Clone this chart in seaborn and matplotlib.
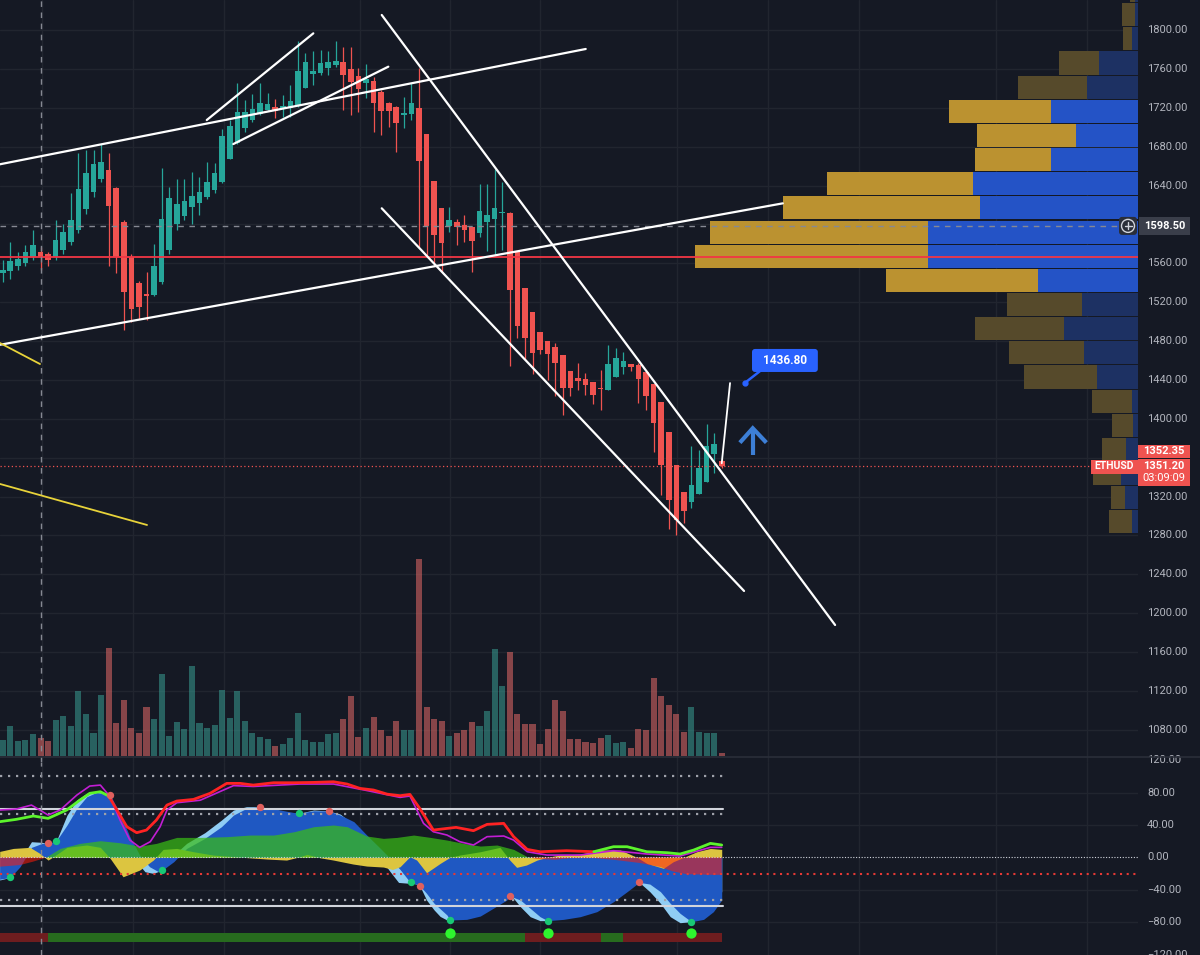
"""
ETHUSD chart: candles, volume, volume profile, trend lines and a wave-trend oscillator
"""

import numpy as np
import matplotlib
matplotlib.use("Agg")
import matplotlib.pyplot as plt
import matplotlib.transforms as mtransforms
from matplotlib.lines import Line2D
from matplotlib.patches import Rectangle, FancyBboxPatch, Circle
import seaborn as sns

# ---------------- candles ----------------
opens = [1550, 1552, 1557, 1560, 1567, 1572, 1570, 1567, 1574, 1582,
         1594, 1616, 1633, 1647, 1656, 1637, 1603, 1567, 1540, 1528,
         1527, 1541, 1574, 1600, 1609, 1618, 1622, 1628, 1635, 1644,
         1667, 1684, 1699, 1707, 1714, 1718, 1721, 1719, 1720, 1723,
         1740, 1755, 1756, 1761, 1764, 1767, 1760, 1753, 1745, 1748,
         1736, 1725, 1721, 1713, 1714, 1720, 1693, 1645, 1617, 1598,
         1602, 1599, 1597, 1591, 1602, 1606, 1612, 1612, 1572, 1535,
         1510, 1489, 1480, 1474, 1466, 1449, 1442, 1441, 1438, 1432,
         1430, 1443, 1453, 1456, 1455, 1448, 1436, 1417, 1386, 1352,
         1325, 1314, 1323, 1335, 1364, 1357]
highs = [1563, 1582, 1572, 1579, 1594, 1577, 1572, 1605, 1600, 1632,
         1674, 1677, 1677, 1683, 1674, 1639, 1605, 1570, 1542, 1551,
         1580, 1658, 1638, 1647, 1647, 1654, 1649, 1664, 1663, 1698,
         1707, 1746, 1728, 1734, 1745, 1735, 1729, 1733, 1743, 1789,
         1776, 1778, 1779, 1778, 1789, 1783, 1783, 1761, 1765, 1752,
         1738, 1726, 1722, 1731, 1745, 1761, 1693, 1645, 1617, 1618,
         1606, 1610, 1597, 1642, 1642, 1657, 1644, 1613, 1572, 1535,
         1510, 1489, 1480, 1478, 1466, 1449, 1457, 1447, 1438, 1450,
         1476, 1473, 1469, 1456, 1457, 1448, 1436, 1417, 1386, 1352,
         1325, 1372, 1368, 1395, 1385, 1359]
lows = [1541, 1544, 1553, 1557, 1563, 1553, 1557, 1563, 1570, 1579,
        1591, 1611, 1628, 1644, 1557, 1550, 1491, 1500, 1503, 1502,
        1526, 1539, 1570, 1594, 1605, 1600, 1610, 1626, 1632, 1643,
        1667, 1683, 1695, 1705, 1713, 1717, 1710, 1711, 1711, 1721,
        1740, 1743, 1754, 1754, 1762, 1718, 1713, 1716, 1730, 1695,
        1692, 1700, 1675, 1699, 1707, 1577, 1567, 1560, 1551, 1592,
        1579, 1582, 1551, 1587, 1573, 1570, 1574, 1454, 1483, 1461,
        1446, 1467, 1440, 1423, 1404, 1423, 1430, 1425, 1415, 1409,
        1430, 1443, 1446, 1449, 1416, 1409, 1366, 1322, 1287, 1280,
        1293, 1308, 1323, 1335, 1344, 1349]
closes = [1553, 1562, 1564, 1572, 1579, 1567, 1563, 1584, 1592, 1605,
          1636, 1653, 1662, 1664, 1619, 1567, 1531, 1513, 1515, 1526,
          1557, 1606, 1627, 1621, 1624, 1629, 1633, 1644, 1653, 1691,
          1701, 1716, 1716, 1719, 1725, 1724, 1717, 1722, 1727, 1758,
          1767, 1758, 1766, 1767, 1768, 1754, 1747, 1739, 1750, 1725,
          1717, 1717, 1704, 1714, 1725, 1665, 1598, 1589, 1581, 1605,
          1597, 1594, 1583, 1614, 1610, 1617, 1613, 1533, 1496, 1483,
          1468, 1471, 1467, 1457, 1432, 1432, 1439, 1435, 1425, 1431,
          1456, 1463, 1459, 1453, 1441, 1424, 1396, 1353, 1317, 1296,
          1305, 1332, 1349, 1372, 1374, 1351.2]
volumes = [4.8, 9.0, 4.6, 4.8, 6.6, 5.3, 4.5, 10.8, 12.1, 9.0,
           19.6, 12.5, 7.0, 18.3, 32.5, 10.0, 16.8, 8.5, 7.0, 14.8,
           11.1, 24.6, 6.1, 10.1, 8.0, 27.0, 10.0, 8.3, 9.3, 19.8,
           11.3, 19.6, 10.5, 7.0, 5.6, 5.1, 3.0, 3.6, 5.3, 13.0,
           4.8, 4.3, 4.3, 6.6, 7.0, 11.1, 18.0, 5.6, 8.5, 11.8,
           7.8, 6.0, 10.5, 7.8, 7.8, 59.0, 14.8, 11.1, 10.6, 6.1,
           6.8, 7.8, 10.3, 9.0, 13.5, 32.2, 21.0, 31.1, 12.5, 9.6,
           9.6, 3.6, 8.0, 16.8, 13.5, 5.1, 5.1, 4.1, 3.8, 5.3,
           6.3, 3.8, 4.1, 2.5, 8.0, 7.8, 23.3, 18.1, 15.3, 12.5,
           7.3, 14.6, 7.3, 7.0, 6.8, 1.0]

price_ticks = list(range(1800, 1079, -40))
osc_ticks = [120, 80, 40, 0, -40, -80, -120]
grid_x = [5.2, 17.2, 29.2, 47.2, 59.1, 71.0, 89.1, 101.1, 113.2, 131.3, 143.2]

# volume profile rows (bottom to top)
vp_low = 1281.5
vp_step = 24.85
vp_up = [5.7, 13, 17.3, 12, 4.7, 5.7, 40.7, 53.7, 74, 56.3, 99.7, 209.7,
         209.7, 158, 165.3, 87.3, 62, 87.3, 51.3, 39, 6.3, 3, 3]
vp_down = [23.3, 14.3, 27.4, 23.7, 21, 40.6, 73.3, 75, 89, 74.4, 152.3, 233.3,
           218.3, 197.3, 146, 75.4, 99.3, 101.4, 68.4, 39.7, 8.7, 12.7, 5]
vp_area_rows = (10, 17)

poc_price = 1566.8
last_price = 1351.2
ask_price = 1352.35
cross_price = 1598.5
cross_bar = 5
countdown = "03:09:09"
symbol = "ETHUSD"

# drawings: (bar, price) anchors
trend_white = [((-0.36, 1661.9), (77.03, 1780.5)),
               ((-0.36, 1476.2), (103.07, 1621.7)),
               ((26.96, 1707.4), (41.04, 1796.6)),
               ((30.47, 1682.7), (50.95, 1762.3)),
               ((50.08, 1815.5), (109.98, 1187.9)),
               ((50.08, 1616.6), (97.95, 1222.9))]
trend_yellow = [((-0.36, 1478.0), (4.93, 1456.4)),
                ((-0.36, 1333.0), (19.07, 1290.8))]
target_line = ((95.0, 1354.3), (96.1, 1436.8))

# ---------------- oscillator ----------------
wt1_x = [-0.4, 1.0, 2.3, 3.8, 5.2, 6.0, 6.6, 7.1, 8.5, 9.8, 11.1, 12.4, 13.5, 14.2,
         14.8, 16.2, 17.5, 18.8, 19.9, 21.1, 22.6, 24.3, 26.7, 28.9, 30.5, 32.2, 34.0,
         36.2, 37.9, 39.1, 41.1, 43.1, 44.6, 46.4, 48.1, 49.9, 51.2, 52.3, 53.6, 54.0,
         55.1, 56.0, 57.0, 57.8, 58.7, 59.1, 61.3, 63.1, 64.8, 66.0, 67.0, 67.5, 68.4,
         69.7, 71.0, 72.0, 74.1, 76.3, 78.5, 80.7, 82.5, 84.1, 85.5, 86.9, 88.2, 89.5,
         91.0, 92.6, 93.9, 95.0]
wt1_y = [-28, -24.8, -3.4, 19.3, 18.5, 16.5, 15.5, 20.5, 52.2, 70.7, 79, 81, 78.5, 76.9,
         50.1, 19.3, -3.4, -17.8, -19.8, -15.7, 2.8, 17.2, 30.4, 46, 58.4, 62.5, 62.5,
         58.5, 55, 54.3, 58.4, 57.1, 53.4, 39.9, 19.3, -1.3, -17.8, -31, -32, -30.9,
         -35, -52.7, -65, -73, -77.4, -77.4, -67, -56.8, -47.8, -42.4, -47.8, -50.7, -61,
         -73.3, -78.2, -78.2, -73.3, -67.1, -56.8, -42.4, -33, -30.9, -42.4, -56.8, -73.3, -80.7,
         -79.5, -69.2, -52.7, -42.4]
wt2_x = [-0.4, 1.0, 2.3, 3.8, 5.2, 6.0, 7.1, 8.5, 9.8, 11.1, 12.4, 14.2, 15.5, 16.8,
         18.1, 19.4, 20.6, 21.1, 22.6, 24.3, 26.7, 28.9, 30.5, 32.2, 34.0, 36.2, 37.9,
         39.1, 41.1, 43.1, 44.6, 46.4, 48.1, 49.9, 51.2, 52.5, 53.6, 54.0, 55.1, 56.0,
         57.0, 58.7, 59.1, 61.3, 63.1, 64.8, 66.6, 67.0, 68.4, 69.7, 71.0, 72.0, 74.1,
         76.3, 78.5, 80.7, 82.5, 84.1, 85.5, 86.9, 88.2, 89.5, 91.0, 92.6, 93.9, 95.0]
wt2_y = [-27, -24.8, -11.6, 12.3, 17.2, 17.2, 20.5, 39.9, 60.4, 74.8, 80.2, 76.9, 54.3, 25.5,
         2.8, -11.6, -17.8, -15.7, -5.4, 11.0, 23.4, 37.8, 52.2, 60.4, 62.5, 59.2, 56.3,
         54.3, 57.5, 57.1, 52.2, 44, 27.5, 11.0, -1.3, -15, -28, -30.9, -35, -44.5,
         -56.8, -71.2, -77.4, -76.6, -72.5, -63, -52.7, -47.8, -52.7, -63, -73.3, -78.2, -76.6,
         -73.3, -67.1, -54.8, -42.4, -30.9, -33, -42.4, -56.8, -69.2, -79.5, -76.6, -67.1, -52.7]
mf_x = [-0.4, 2.3, 4.0, 5.4, 5.8, 7.6, 10.2, 12.9, 15.5, 18.1, 20.3, 23.0, 26.1, 29.6,
        32.7, 35.8, 38.5, 41.1, 43.7, 45.5, 48.1, 50.3, 52.1, 54.3, 56.5, 58.7, 60.9,
        63.1, 65.3, 67.5, 69.3, 70.5, 73.0, 75.0, 78.1, 80.7, 84.2, 86.9, 88.6, 90.4,
        93.9, 95.0]
mf_y = [-11.6, -9.5, -5.4, -1.3, 0.8, 11, 17.2, 20.5, 18, 13.9, 17.2, 24.6, 24.6, 25.5,
        27.5, 27.5, 31.6, 37.8, 39.9, 37.8, 26.3, 23.4, 24.6, 27.5, 24.6, 21.3, 17.2,
        13.9, 15.2, 9.8, 0.8, -2, -3, -1, -1, -3, -7, -12, -17.5, -20.8,
        -21.6, -21.6]
vw_x = [-0.4, 1.4, 3.6, 4.9, 6.0, 6.7, 8.5, 11.1, 12.9, 14.2, 15.9, 18.1, 19.9, 21.2,
        23.0, 25.2, 27.8, 30.5, 34.9, 37.5, 39.3, 40.2, 41.9, 43.7, 46.3, 48.1, 50.3,
        51.5, 52.5, 53.8, 54.7, 56.0, 57.8, 59.1, 60.4, 63.1, 65.7, 67.0, 67.9, 69.2,
        70.6, 71.9, 73.6, 76.3, 79.0, 81.6, 83.8, 85.1, 87.3, 88.6, 90.0, 91.7, 93.5, 95.0]
vw_y = [7.3, 11.0, 12.3, 4.9, -3.4, 0.8, 12.3, 15.2, 12.3, -1.3, -24, -15.7, -3.4, 9.8,
        11.0, 6.9, 2.8, 0.8, -2.1, -3.4, 0.8, 3.6, -0.5, -3.4, -8.3, -10.8, -12,
        -15, -11.6, 0.8, -3.4, -19, -7.5, 0, 2.8, 6.9, 12.3, -3.4, -12.4, -9.5,
        -3.4, 0, 2.8, 4, 9, 9, 0, -7.5, -13.6, -5.4, 0, 6.9, 11.0, 9.8]
rsi_x = [-0.4, 1.8, 4.05, 6.0, 8.45, 10.2, 11.5, 12.9, 14.0, 15.1, 16.4, 17.7, 19.0, 20.3,
         21.7, 23.0, 25.2, 27.4, 29.6, 31.4, 33.1, 35.8, 38.4, 41.1, 43.7, 45.5, 47.2,
         49.0, 50.8, 52.5, 53.8, 55.1, 56.9, 58.7, 59.9, 62.2, 64.0, 66.2, 67.5, 69.3,
         71.0, 74.5, 78.1, 80.7, 82.5, 85.1, 87.8, 89.5, 91.3, 93.5, 95.0]
rsi_y = [44, 46.9, 51, 48.1, 58.4, 70.7, 79, 81, 75.7, 58.4, 37.8, 30.4, 33.7, 46,
         64.5, 69.5, 71.5, 79, 91.3, 91.3, 89.2, 92.1, 92.1, 92.5, 93.3, 90.5, 85.1,
         83.1, 78, 76.1, 77.7, 60.4, 33.7, 35.7, 37, 32.9, 40.7, 41.9, 25.5, 9.8,
         6.9, 8.2, 6.9, 13.1, 13.1, 6.9, 5.7, 4.1, 9.0, 17.2, 15.2]
rsi_breaks = [14.0, 78.1]
mag_x = [-0.4, 1.8, 3.8, 6.0, 7.6, 9.8, 11.5, 12.9, 14.2, 15.5, 16.8, 18.1, 19.5, 20.8,
         21.7, 23.0, 26.1, 30.5, 33.1, 39.3, 43.7, 48.1, 52.5, 53.8, 55.6, 56.9, 58.7,
         60.4, 62.2, 64.0, 66.2, 67.5, 69.3, 71.9, 76.3, 80.7, 85.1, 89.5, 93.5, 95.0]
mag_y = [58.4, 59.6, 64.5, 52.2, 58.4, 76.9, 88, 89.2, 74.8, 46, 21.3, 12.3, 19.3, 37.8,
         58.4, 67.4, 70.5, 88.5, 87.5, 90.5, 90.5, 82.5, 74, 75.7, 41.9, 31.6, 27.5,
         19.3, 15.2, 25.5, 26.3, 21.3, 6.9, 2.8, 2.8, 8.2, 4.1, 1.6, 12.3, 12.3]
red_dot_x = [6.0, 14.2, 34.0, 43.1, 55.1, 67.0, 84.1]
red_dot_y = [17.2, 76.9, 62.5, 57.1, -35, -47.8, -30.9]
green_dot_x = [1.0, 7.1, 21.1, 39.1, 54.0, 59.1, 72.0, 91.0]
green_dot_y = [-24.8, 20.5, -15.7, 54.3, -30.9, -77.4, -78.2, -79.5]
signal_x = [59.1, 72.0, 91.0]
signal_y = [-93, -93, -93]
strip_edges = [-0.5, 6, 69, 79, 82, 95]
strip_bull = [False, True, False, True, False]
levels_dotted = [100, 53, -53]
levels_solid = [60, -60]
level_red = -20

# ---------------- style ----------------
BG = "#151924"
GRID = "#21252f"
TEXT = "#b2b5be"
UP = "#26a69a"
DOWN = "#ef5350"

sns.set_theme(style="dark", rc={"axes.facecolor": BG, "figure.facecolor": BG,
                                "savefig.facecolor": BG})
plt.rcParams["font.family"] = ["Roboto", "DejaVu Sans"]

W, H = 1200, 955
PLOT_W, SPLIT = 1138, 762
X0, X1 = -0.357, 150.0
P0, P1 = 1046.95, 1830.9
V0, V1 = -120.6, 117.7

fig = plt.figure(figsize=(W / 100, H / 100), dpi=100)
main_rect = [0, (H - SPLIT) / H, PLOT_W / W, SPLIT / H]
osc_rect = [0, 0, PLOT_W / W, (H - SPLIT) / H]

ax_grid = fig.add_axes(main_rect)
ax_main = fig.add_axes(main_rect, sharex=ax_grid, sharey=ax_grid)
ax_vol = ax_main.twinx()
ax_vp = ax_main.twiny()
ax_osc = fig.add_axes(osc_rect, sharex=ax_grid)

for z, a in enumerate([ax_grid, ax_vol, ax_vp, ax_main]):
    a.set_zorder(z)
for a in [ax_grid, ax_main, ax_vol, ax_vp, ax_osc]:
    a.set_axis_off()

idx = np.arange(len(opens))
o, h, l, c = (np.array(v, dtype=float) for v in (opens, highs, lows, closes))

# grid
for p in price_ticks:
    ax_grid.axhline(p, color=GRID, lw=1)
for gx in grid_x:
    ax_grid.axvline(gx, color=GRID, lw=1)
    ax_osc.axvline(gx, color=GRID, lw=1, zorder=0.5)
for v in (80, 40, -40, -80):
    ax_osc.axhline(v, color=GRID, lw=1, zorder=0.5)

# volume
direction = np.where(c >= o, "up", "down")
sns.barplot(x=idx, y=volumes, hue=direction, palette={"up": UP, "down": DOWN},
            native_scale=True, dodge=False, width=0.8, errorbar=None,
            alpha=0.58, linewidth=0, legend=False, ax=ax_vol)
ax_vol.set_ylim(-1.8, 226.8)
ax_vol.set_axis_off()

# volume profile
rows = np.arange(len(vp_up))
centers = vp_low + vp_step * (rows + 0.5)
in_area = (rows >= vp_area_rows[0]) & (rows <= vp_area_rows[1])
ax_vp.barh(centers, vp_up, height=vp_step * 0.955, left=0,
           color=["#2453c6" if a else "#1d3163" for a in in_area], linewidth=0)
ax_vp.barh(centers, vp_down, height=vp_step * 0.955, left=vp_up,
           color=["#bb9230" if a else "#564a2b" for a in in_area], linewidth=0)
ax_vp.set_xlim(PLOT_W, 0)

# candles
candle_colors = np.where(c >= o, UP, DOWN)
ax_main.vlines(idx, l, h, colors=candle_colors, lw=0.9, zorder=2)
ax_main.bar(idx, np.maximum(np.abs(c - o), 1.2), bottom=np.minimum(o, c), width=0.74,
            color=candle_colors, linewidth=0, zorder=2.1)

# horizontal lines
ax_main.axhline(poc_price, color="#f23645", lw=1.3, zorder=3)
ax_main.axhline(last_price, color=DOWN, lw=0.9, ls=(0, (1, 2)), zorder=3)
ax_main.plot([X0, (1120 / PLOT_W) * (X1 - X0) + X0], [cross_price, cross_price],
             color="#868993", lw=1, ls=(0, (4, 4)), zorder=3)
ax_main.axvline(cross_bar, color="#868993", lw=1, ls=(0, (4, 4)), zorder=3)

# trend lines
for (xa, ya), (xb, yb) in trend_white:
    ax_main.plot([xa, xb], [ya, yb], color="white", lw=1.6, solid_capstyle="round", zorder=4)
for (xa, ya), (xb, yb) in trend_yellow:
    ax_main.plot([xa, xb], [ya, yb], color="#e8d33a", lw=1.3, zorder=4)
(ta, pa), (tb, pb) = target_line
ax_main.plot([ta, tb], [pa, pb], color="white", lw=1.3, zorder=4)

# price callout
ax_main.plot([98.1, 100.2], [1437.2, 1450.0], color="#2962ff", lw=1.8, zorder=5)
ax_main.plot([98.1], [1437.2], "o", color="#2962ff", ms=3.5, zorder=5)
ax_main.add_patch(FancyBboxPatch((99.0, 1448.2), 8.7, 23.7,
                                 boxstyle="round,pad=0,rounding_size=0.4",
                                 mutation_aspect=7.7, fc="#2962ff", ec="none", zorder=6))
ax_main.text(103.35, 1460.0, f"{pb:.2f}", color="white", fontsize=8.5, weight="bold",
             ha="center", va="center", zorder=7)

# up arrow
ax_main.plot([99.1, 99.1], [1362.8, 1388.0], color="#3d7fd6", lw=3, solid_capstyle="butt", zorder=5)
ax_main.plot([97.4, 99.1, 100.9], [1375.5, 1390.3, 1375.5], color="#3d7fd6", lw=3,
             solid_joinstyle="miter", solid_capstyle="butt", zorder=5)

# ---------------- oscillator ----------------
wt1_x, wt1_y = np.array(wt1_x), np.array(wt1_y)
wt2_x, wt2_y = np.array(wt2_x), np.array(wt2_y)
mf_x, mf_y = np.array(mf_x), np.array(mf_y)
vw_x, vw_y = np.array(vw_x), np.array(vw_y)
rsi_x, rsi_y = np.array(rsi_x), np.array(rsi_y)

# wave areas, then vwap, then the translucent money-flow on top
ax_osc.fill_between(wt1_x, 0, wt1_y, color="#90cdf4", lw=0, zorder=1.0)
ax_osc.fill_between(wt2_x, 0, wt2_y, color="#1f58c2", lw=0, zorder=1.1)
ax_osc.fill_between(vw_x, 0, vw_y, color="#dcc540", lw=0, zorder=1.2)
ax_osc.fill_between(mf_x, 0, mf_y, where=mf_y >= 0, interpolate=True,
                    color="#39bc16", alpha=0.72, lw=0, zorder=1.3)
ax_osc.fill_between(mf_x, 0, mf_y, where=mf_y <= 0, interpolate=True,
                    color="#ff1a08", alpha=0.55, lw=0, zorder=1.3)

for lv in levels_dotted:
    ax_osc.plot([X0, 95.2], [lv, lv], color="#9ea1aa", lw=1.6, ls=(0, (1, 2.6)), zorder=1.5)
for lv in levels_solid:
    ax_osc.plot([X0, 95.2], [lv, lv], color="#d1d4dc", lw=1.5, zorder=1.5)
ax_osc.axhline(0, color="#d1d4dc", lw=0.8, ls=(0, (1, 1.5)), zorder=1.5)
ax_osc.axhline(level_red, color="#e53935", lw=1.5, ls=(0, (1, 2.2)), zorder=1.5)

sns.lineplot(x=mag_x, y=mag_y, ax=ax_osc, color="#c21ed4", lw=1.2,
             estimator=None, sort=False, zorder=2)
bounds = [X0 - 1] + rsi_breaks + [X1]
seg_colors = ["#5cf42c", "#ff2323", "#5cf42c"]
for a, b, col in zip(bounds[:-1], bounds[1:], seg_colors):
    m = (rsi_x >= a) & (rsi_x <= b)
    sns.lineplot(x=rsi_x[m], y=rsi_y[m], ax=ax_osc, color=col, lw=2,
                 estimator=None, sort=False, zorder=2.1)

sns.scatterplot(x=red_dot_x, y=red_dot_y, ax=ax_osc, color="#e0605e", s=28,
                linewidth=0, zorder=2.5)
sns.scatterplot(x=green_dot_x, y=green_dot_y, ax=ax_osc, color="#19c975", s=28,
                linewidth=0, zorder=2.5)

ax_osc.bar(strip_edges[:-1], 10.5, width=np.diff(strip_edges), bottom=-104, align="edge",
           color=["#276b1e" if b else "#6e1d1f" for b in strip_bull], linewidth=0, zorder=2.6)
sns.scatterplot(x=signal_x, y=signal_y, ax=ax_osc, color="#2ef52e", s=55,
                linewidth=0, zorder=2.7)
ax_osc.axvline(cross_bar, color="#868993", lw=1, ls=(0, (4, 4)), zorder=3)
ax_osc.set_axis_off()

# limits
ax_main.set_xlim(X0, X1)
ax_main.set_ylim(P0, P1)
ax_osc.set_ylim(V0, V1)

# ---------------- right scale ----------------
# tick labels hidden behind the price tags are skipped, as on the chart
covered = [cross_price, last_price]
tr_main = mtransforms.blended_transform_factory(ax_main.transAxes, ax_main.transData)
for p in price_ticks:
    if any(abs(p - cp) < 12 for cp in covered):
        continue
    ax_main.text(1147 / PLOT_W, p, f"{p:.2f}", transform=tr_main, color=TEXT,
                 fontsize=8, va="center", ha="left", clip_on=False)
tr_osc = mtransforms.blended_transform_factory(ax_osc.transAxes, ax_osc.transData)
for v in osc_ticks:
    ax_osc.text(1147 / PLOT_W, v, f"{v:.2f}".replace("-", "\u2212"), transform=tr_osc,
                color=TEXT, fontsize=8, va="center", ha="left", clip_on=False)

ident = mtransforms.IdentityTransform()


def to_px(ax, value):
    return ax.transData.transform((0, value))[1]


def tag_box(x0, y0, w, hgt, fc):
    fig.add_artist(Rectangle((x0, y0), w, hgt, transform=ident, fc=fc, ec="none", zorder=10))


def tag_text(x, y, s, **kw):
    fig.text(x, y, s, transform=ident, zorder=11, **kw)


yc = to_px(ax_main, cross_price)
tag_box(1139, yc - 9, 51, 18, "#3a3e4a")
tag_text(1164.5, yc, f"{cross_price:.2f}", color="white", fontsize=8, weight="bold",
         ha="center", va="center")
fig.add_artist(FancyBboxPatch((1119, yc - 9), 18, 18, boxstyle="round,pad=0,rounding_size=3",
                              transform=ident, fc="#2a2e39", ec="none", zorder=10))
fig.add_artist(Circle((1128, yc), 6.5, transform=ident, fill=False, ec="#d1d4dc", lw=1, zorder=11))
fig.add_artist(Line2D([1124.5, 1131.5], [yc, yc], transform=ident, color="#d1d4dc", lw=1, zorder=11))
fig.add_artist(Line2D([1128, 1128], [yc - 3.5, yc + 3.5], transform=ident, color="#d1d4dc", lw=1, zorder=11))

yp = to_px(ax_main, last_price)
tag_box(1138, yp + 8.3, 52, 13.4, DOWN)
tag_text(1164, yp + 15, f"{ask_price:.2f}", color="white", fontsize=8, weight="bold",
         ha="center", va="center")
tag_box(1138, yp - 20, 52, 27.3, DOWN)
tag_text(1164, yp + 0.5, f"{last_price:.2f}", color="white", fontsize=8, weight="bold",
         ha="center", va="center")
tag_text(1164, yp - 12.2, countdown, color="white", fontsize=8, ha="center", va="center")
tag_box(1091, yp - 7.3, 46.7, 13.3, DOWN)
tag_text(1114.3, yp, symbol, color="white", fontsize=7.5, weight="bold", ha="center", va="center")

# pane separator
fig.add_artist(Line2D([0, W], [H - 757, H - 757], transform=ident, color="#2a2e39",
                      lw=1.2, zorder=9))

fig.savefig("out.png", dpi=100, facecolor=BG)
plt.close(fig)
